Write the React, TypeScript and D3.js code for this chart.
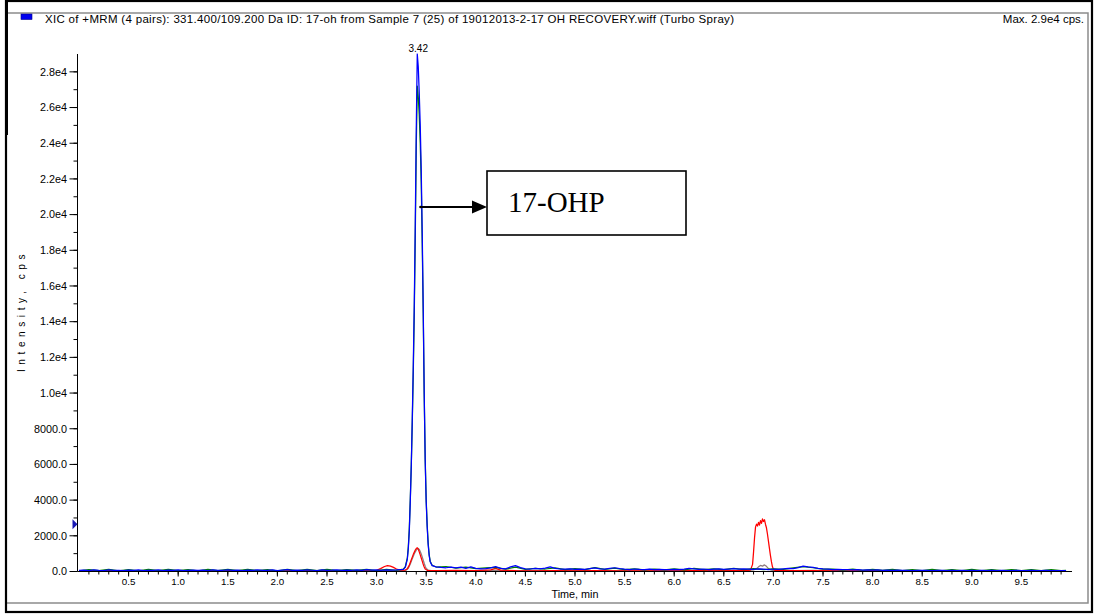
import React from 'react';
import * as d3 from 'd3';

const WIDTH = 1094;
const HEIGHT = 615;

const headerText =
  'XIC of +MRM (4 pairs): 331.400/109.200 Da ID: 17-oh from Sample 7 (25) of 19012013-2-17 OH RECOVERY.wiff (Turbo Spray)';
const maxText = 'Max. 2.9e4 cps.';
const peakLabel = '3.42';
const peakLabelTime = 3.42;
const peakLabelValue = 29000;
const annotationText = '17-OHP';
const xAxisTitle = 'Time, min';
const yAxisTitle = 'Intensity, cps';

const xDomain: [number, number] = [-0.02, 10.01];
const yDomain: [number, number] = [0, 29000];
const xLabelTicks = [0.5, 1.0, 1.5, 2.0, 2.5, 3.0, 3.5, 4.0, 4.5, 5.0, 5.5, 6.0, 6.5, 7.0, 7.5, 8.0, 8.5, 9.0, 9.5];
const yLabelTicks = [0, 2000, 4000, 6000, 8000, 10000, 12000, 14000, 16000, 18000, 20000, 22000, 24000, 26000, 28000];
const markerValue = 2650;

// Blue trace (time min, intensity cps)
const blueTrace: [number, number][] = [
  [0.0, 60], [0.05, 75], [0.1, 50], [0.15, 85], [0.2, 65], [0.25, 55], [0.3, 90], [0.35, 60], [0.4, 70], [0.45, 50],
  [0.5, 80], [0.55, 65], [0.6, 95], [0.65, 55], [0.7, 70], [0.75, 60], [0.8, 85], [0.85, 50], [0.9, 75], [0.95, 65],
  [1.0, 90], [1.05, 55], [1.1, 70], [1.15, 80], [1.2, 60], [1.25, 75], [1.3, 50], [1.35, 85], [1.4, 65], [1.45, 70],
  [1.5, 95], [1.55, 60], [1.6, 75], [1.65, 55], [1.7, 80], [1.75, 65], [1.8, 90], [1.85, 60], [1.9, 70], [1.95, 85],
  [2.0, 55], [2.05, 75], [2.1, 100], [2.15, 65], [2.2, 80], [2.25, 60], [2.3, 90], [2.35, 70], [2.4, 55], [2.45, 85],
  [2.5, 65], [2.55, 75], [2.6, 95], [2.65, 60], [2.7, 80], [2.75, 70], [2.8, 90], [2.85, 65], [2.9, 100], [2.95, 75],
  [3.0, 85], [3.05, 70], [3.1, 95], [3.15, 80], [3.2, 90], [3.24, 105], [3.27, 120], [3.29, 250], [3.31, 700],
  [3.32, 1300], [3.33, 2300], [3.34, 4000], [3.35, 6000], [3.36, 8600], [3.37, 11600], [3.38, 15000],
  [3.39, 19500], [3.4, 24800], [3.41, 29000], [3.42, 28300], [3.43, 26800], [3.44, 25000], [3.45, 22500],
  [3.46, 19000], [3.47, 14800], [3.48, 10000], [3.49, 6200], [3.5, 3900], [3.51, 2500], [3.52, 1500], [3.53, 900],
  [3.54, 550], [3.56, 330], [3.6, 260], [3.65, 230], [3.7, 210], [3.75, 250], [3.8, 200], [3.85, 240], [3.9, 180],
  [3.95, 260], [4.0, 170], [4.05, 150], [4.1, 160], [4.15, 200], [4.2, 270], [4.25, 180], [4.3, 150], [4.35, 260],
  [4.4, 330], [4.45, 220], [4.5, 150], [4.55, 140], [4.6, 170], [4.65, 150], [4.7, 190], [4.75, 260], [4.8, 180],
  [4.85, 140], [4.9, 130], [4.95, 150], [5.0, 120], [5.05, 140], [5.1, 120], [5.15, 160], [5.2, 200], [5.25, 150],
  [5.3, 130], [5.35, 170], [5.4, 210], [5.45, 160], [5.5, 130], [5.55, 110], [5.6, 140], [5.65, 120], [5.7, 110],
  [5.75, 130], [5.8, 100], [5.85, 120], [5.9, 110], [5.95, 100], [6.0, 120], [6.05, 110], [6.1, 130], [6.15, 170],
  [6.2, 150], [6.25, 120], [6.3, 140], [6.35, 110], [6.4, 130], [6.45, 150], [6.5, 120], [6.55, 140], [6.6, 160],
  [6.65, 130], [6.7, 150], [6.75, 140], [6.8, 120], [6.85, 150], [6.9, 130], [6.95, 110], [7.0, 140], [7.05, 120],
  [7.1, 150], [7.15, 170], [7.2, 160], [7.25, 220], [7.3, 300], [7.35, 260], [7.4, 230], [7.45, 180], [7.5, 150],
  [7.55, 130], [7.6, 110], [7.65, 120], [7.7, 100], [7.75, 110], [7.8, 90], [7.85, 100], [7.9, 80], [7.95, 90],
  [8.0, 75], [8.05, 85], [8.1, 70], [8.15, 80], [8.2, 65], [8.25, 75], [8.3, 60], [8.35, 70], [8.4, 55], [8.45, 65],
  [8.5, 60], [8.55, 70], [8.6, 55], [8.65, 65], [8.7, 60], [8.75, 50], [8.8, 65], [8.85, 55], [8.9, 60], [8.95, 50],
  [9.0, 65], [9.05, 55], [9.1, 60], [9.15, 50], [9.2, 65], [9.25, 55], [9.3, 60], [9.35, 50], [9.4, 55], [9.45, 60],
  [9.5, 50], [9.55, 55], [9.6, 60], [9.65, 50], [9.7, 55], [9.75, 60], [9.8, 50], [9.85, 55], [9.9, 50], [9.95, 55],
];

// Green trace
const greenTrace: [number, number][] = [
  [0.0, 40], [0.1, 110], [0.2, 45], [0.3, 120], [0.4, 35], [0.5, 105], [0.6, 40], [0.7, 115], [0.8, 50], [0.9, 125],
  [1.0, 45], [1.1, 110], [1.2, 40], [1.3, 120], [1.4, 55], [1.5, 115], [1.6, 45], [1.7, 125], [1.8, 50], [1.9, 110],
  [2.0, 40], [2.1, 120], [2.2, 55], [2.3, 115], [2.4, 45], [2.5, 125], [2.6, 50], [2.7, 110], [2.8, 60], [2.9, 120],
  [3.0, 55], [3.1, 115], [3.2, 70], [3.27, 130], [3.29, 280], [3.31, 760], [3.32, 1400], [3.33, 2450],
  [3.34, 4100], [3.35, 6000], [3.36, 8400], [3.37, 11200], [3.38, 14500], [3.39, 18800], [3.4, 23800],
  [3.41, 27200], [3.42, 26600], [3.43, 25600], [3.44, 24000], [3.45, 21800], [3.46, 18400], [3.47, 14500],
  [3.48, 9900], [3.49, 6300], [3.5, 4000], [3.51, 2600], [3.52, 1600], [3.53, 950], [3.54, 580], [3.56, 350],
  [3.6, 250], [3.7, 280], [3.8, 190], [3.9, 250], [4.0, 160], [4.1, 200], [4.2, 230], [4.3, 130], [4.4, 240],
  [4.5, 120], [4.6, 180], [4.7, 140], [4.8, 200], [4.9, 110], [5.0, 160], [5.1, 100], [5.2, 220], [5.3, 120],
  [5.4, 190], [5.5, 100], [5.6, 150], [5.7, 90], [5.8, 140], [5.9, 85], [6.0, 150], [6.1, 95], [6.2, 170],
  [6.3, 100], [6.4, 150], [6.5, 110], [6.6, 170], [6.7, 100], [6.8, 160], [6.9, 110], [7.0, 150], [7.1, 120],
  [7.2, 200], [7.3, 270], [7.4, 210], [7.5, 130], [7.6, 140], [7.7, 80], [7.8, 130], [7.9, 70], [8.0, 120],
  [8.1, 60], [8.2, 115], [8.3, 55], [8.4, 110], [8.5, 50], [8.6, 115], [8.7, 55], [8.8, 110], [8.9, 45], [9.0, 115],
  [9.1, 50], [9.2, 105], [9.3, 45], [9.4, 110], [9.5, 50], [9.6, 105], [9.7, 45], [9.8, 100], [9.9, 50], [9.95, 60],
];

// Red trace
const redTrace: [number, number][] = [
  [0.0, 30], [0.2, 45], [0.4, 30], [0.6, 40], [0.8, 30], [1.0, 45], [1.2, 30], [1.4, 40], [1.6, 35], [1.8, 45],
  [2.0, 30], [2.2, 40], [2.4, 35], [2.6, 45], [2.8, 40], [2.95, 50], [3.0, 70], [3.04, 160], [3.08, 280],
  [3.11, 330], [3.14, 300], [3.17, 230], [3.2, 140], [3.23, 90], [3.26, 70], [3.29, 80], [3.31, 160], [3.33, 360],
  [3.35, 660], [3.37, 960], [3.39, 1200], [3.4, 1290], [3.41, 1330], [3.42, 1250], [3.43, 1100], [3.44, 930],
  [3.45, 760], [3.46, 580], [3.47, 400], [3.48, 250], [3.49, 140], [3.51, 70], [3.6, 50], [3.8, 60], [4.0, 45],
  [4.15, 90], [4.2, 180], [4.25, 80], [4.4, 50], [4.6, 40], [4.8, 45], [5.0, 35], [5.2, 45], [5.4, 40],
  [5.6, 35], [5.8, 40], [6.0, 35], [6.2, 45], [6.4, 40], [6.6, 45], [6.74, 50], [6.77, 90], [6.79, 400],
  [6.8, 1100], [6.81, 1900], [6.82, 2500], [6.83, 2650], [6.84, 2550], [6.85, 2750], [6.86, 2600], [6.87, 2850],
  [6.88, 2700], [6.89, 2950], [6.9, 2800], [6.91, 2900], [6.92, 2650], [6.93, 2450], [6.94, 2100], [6.95, 1700],
  [6.96, 1300], [6.97, 900], [6.98, 550], [6.99, 280], [7.0, 120], [7.02, 60], [7.2, 45], [7.4, 50], [7.6, 40],
  [7.8, 35], [8.0, 40], [8.2, 30], [8.4, 35], [8.6, 30], [8.8, 35], [9.0, 30], [9.2, 35], [9.4, 30], [9.6, 35],
  [9.8, 30], [9.95, 35],
];

// Grey trace
const greyTrace: [number, number][] = [
  [0.0, 35], [0.2, 40], [0.4, 35], [0.6, 45], [0.8, 35], [1.0, 40], [1.2, 35], [1.4, 45], [1.6, 40], [1.8, 35],
  [2.0, 40], [2.2, 35], [2.4, 45], [2.6, 40], [2.8, 35], [3.0, 45], [3.2, 50], [3.3, 80], [3.32, 180],
  [3.34, 420], [3.36, 720], [3.38, 1000], [3.4, 1200], [3.41, 1260], [3.42, 1290], [3.43, 1240], [3.44, 1120],
  [3.45, 980], [3.46, 820], [3.47, 640], [3.48, 460], [3.49, 300], [3.5, 170], [3.52, 80], [3.55, 50], [3.6, 50],
  [3.8, 55], [4.0, 45], [4.2, 60], [4.4, 45], [4.6, 50], [4.8, 40], [5.0, 45], [5.2, 50], [5.4, 45], [5.6, 40],
  [5.8, 45], [6.0, 40], [6.2, 50], [6.4, 45], [6.6, 55], [6.75, 60], [6.8, 90], [6.83, 160], [6.85, 260],
  [6.87, 340], [6.89, 300], [6.91, 370], [6.93, 290], [6.95, 160], [6.97, 90], [7.0, 55], [7.2, 50], [7.4, 60],
  [7.6, 45], [7.8, 40], [8.0, 45], [8.2, 40], [8.4, 35], [8.6, 40], [8.8, 35], [9.0, 40], [9.2, 35], [9.4, 40],
  [9.6, 35], [9.8, 40], [9.95, 35],
];

const traces = [
  { name: 'grey', data: greyTrace, color: '#8f7c7c' },
  { name: 'red', data: redTrace, color: '#ff0000' },
  { name: 'green', data: greenTrace, color: '#008000' },
  { name: 'blue', data: blueTrace, color: '#0000ff' },
];

const SANS = '"Liberation Sans", Arial, sans-serif';
const SERIF = '"Liberation Serif", "Times New Roman", serif';

function formatY(v: number): string {
  if (v >= 10000) return (v / 10000).toFixed(1) + 'e4';
  return v.toFixed(1);
}

export default function App() {
  const plotLeft = 77.5;
  const plotRight = 1072;
  const plotTop = 54;
  const plotBottom = 571.5;

  const x = d3.scaleLinear().domain(xDomain).range([77, plotRight]);
  const y = d3.scaleLinear().domain(yDomain).range([plotBottom, plotTop]);
  const line = d3
    .line<[number, number]>()
    .x((d) => x(d[0]))
    .y((d) => y(d[1]));

  const xMinor = d3.range(1, 100).map((i) => i / 10);
  const yMinor = d3.range(1000, 29000, 1000);

  const arrowY = 207;

  return (
    <svg
      width={WIDTH}
      height={HEIGHT}
      viewBox={`0 0 ${WIDTH} ${HEIGHT}`}
      style={{ position: 'absolute', left: 0, top: 0, display: 'block', background: '#fff' }}
    >
      <rect x={0} y={0} width={WIDTH} height={HEIGHT} fill="#fff" />
      {/* inner grey frame */}
      <path d={`M7,13 H1088 V603 H7`} fill="none" stroke="#8c8c8c" strokeWidth={1.5} />
      {/* outer black frame */}
      <rect x={6} y={1} width={1086} height={611} fill="none" stroke="#000" strokeWidth={2.2} />
      <line x1={6.5} y1={0} x2={6.5} y2={135} stroke="#000" strokeWidth={3} />

      {/* header */}
      <rect x={21} y={14} width={11} height={5.5} fill="#0000ee" stroke="#00008b" strokeWidth={0.6} />
      <text x={45} y={22.5} fontFamily={SANS} fontSize={11.5} fill="#000" textLength={689} lengthAdjust="spacing">
        {headerText}
      </text>
      <text x={1084} y={22.5} fontFamily={SANS} fontSize={11.5} fill="#000" textAnchor="end">
        {maxText}
      </text>

      {/* traces */}
      <g fill="none" strokeWidth={1.25} strokeLinejoin="round">
        {traces.map((t) => (
          <path key={t.name} d={line(t.data) || ''} stroke={t.color} />
        ))}
      </g>

      {/* y axis */}
      <line x1={plotLeft} y1={plotTop} x2={plotLeft} y2={plotBottom} stroke="#000" strokeWidth={1} />
      {yMinor.map((v) => (
        <line key={'ym' + v} x1={plotLeft - 4} x2={plotLeft} y1={y(v)} y2={y(v)} stroke="#000" strokeWidth={1} />
      ))}
      {yLabelTicks.map((v) => (
        <g key={'yt' + v}>
          <line x1={plotLeft - 8} x2={plotLeft} y1={y(v)} y2={y(v)} stroke="#000" strokeWidth={1} />
          <text x={plotLeft - 10.5} y={y(v) + 3.8} fontFamily={SANS} fontSize={10.8} textAnchor="end" fill="#000">
            {formatY(v)}
          </text>
        </g>
      ))}
      <path
        d={`M${plotLeft - 5},${y(markerValue) - 5} L${plotLeft},${y(markerValue)} L${plotLeft - 5},${y(markerValue) + 5} Z`}
        fill="#1a1ab4"
      />
      <text
        transform={`translate(25, 311) rotate(-90)`}
        fontFamily={SANS}
        fontSize={10}
        textAnchor="middle"
        letterSpacing={4.6}
        fill="#000"
      >
        {yAxisTitle}
      </text>

      {/* x axis */}
      <line x1={plotLeft} y1={plotBottom} x2={plotRight} y2={plotBottom} stroke="#000" strokeWidth={1} />
      {xMinor.map((v) => (
        <line key={'xm' + v} x1={x(v)} x2={x(v)} y1={plotBottom} y2={plotBottom + 3} stroke="#000" strokeWidth={1} />
      ))}
      {xLabelTicks.map((v) => (
        <g key={'xt' + v}>
          <line x1={x(v)} x2={x(v)} y1={plotBottom} y2={plotBottom + 5} stroke="#000" strokeWidth={1} />
          <text x={x(v)} y={585} fontFamily={SANS} fontSize={9.8} textAnchor="middle" fill="#000">
            {v.toFixed(1)}
          </text>
        </g>
      ))}
      <text x={x(5.0)} y={597.5} fontFamily={SANS} fontSize={10.8} textAnchor="middle" fill="#000">
        {xAxisTitle}
      </text>

      {/* peak label */}
      <text x={x(peakLabelTime)} y={y(peakLabelValue) - 2.5} fontFamily={SANS} fontSize={10} textAnchor="middle" fill="#000">
        {peakLabel}
      </text>

      {/* annotation */}
      <circle cx={420.5} cy={arrowY} r={1.3} fill="#000" />
      <line x1={420} y1={arrowY} x2={474} y2={arrowY} stroke="#000" strokeWidth={2.2} />
      <path d={`M472,${arrowY - 6.5} L487,${arrowY} L472,${arrowY + 6.5} Z`} fill="#000" />
      <rect x={487} y={171} width={199} height={64} fill="#fff" stroke="#000" strokeWidth={1.6} />
      <text x={508} y={212} fontFamily={SERIF} fontSize={29} fill="#000">
        {annotationText}
      </text>
    </svg>
  );
}
